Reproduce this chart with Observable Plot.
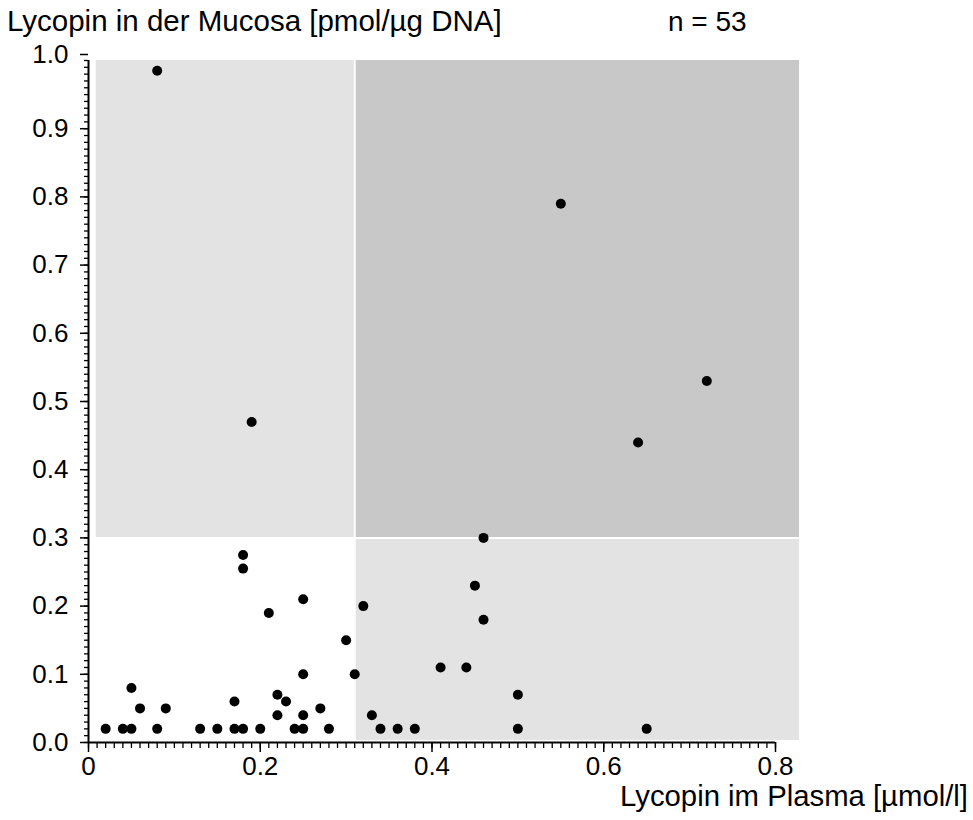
<!DOCTYPE html>
<html>
<head>
<meta charset="utf-8">
<script src="https://cdn.jsdelivr.net/npm/d3@7"></script>
<script src="https://cdn.jsdelivr.net/npm/@observablehq/plot@0.6"></script>
<style>
  html, body { margin: 0; padding: 0; background: #fff; }
  #wrap { position: relative; width: 973px; height: 820px; font-family: "Liberation Sans", Arial, sans-serif; }
  .lbl { position: absolute; line-height: 28px; color: #000; white-space: nowrap; }
</style>
</head>
<body>
<div id="wrap">
  <div class="lbl" id="ytitle" style="left:7px; top:7px; font-size:29.5px;"></div>
  <div class="lbl" id="ntext" style="left:668px; top:8px; font-size:28px;"></div>
  <div class="lbl" id="xtitle" style="right:5px; top:782px; font-size:29.3px;"></div>
</div>
<script>
// ---- data ----
const plasma = [
  0.02, 0.04, 0.05, 0.08, 0.13, 0.15, 0.17, 0.18, 0.20, 0.24, 0.25, 0.28, 0.34, 0.36, 0.38, 0.50, 0.65,
  0.05, 0.06, 0.09, 0.17, 0.18, 0.18, 0.21, 0.22, 0.22, 0.23, 0.25, 0.25, 0.25, 0.27, 0.30, 0.31, 0.32, 0.33,
  0.41, 0.44, 0.45, 0.46, 0.46, 0.50, 0.08, 0.19, 0.55, 0.64, 0.72
];
const mucosa = [
  0.02, 0.02, 0.02, 0.02, 0.02, 0.02, 0.02, 0.02, 0.02, 0.02, 0.02, 0.02, 0.02, 0.02, 0.02, 0.02, 0.02,
  0.08, 0.05, 0.05, 0.06, 0.255, 0.275, 0.19, 0.07, 0.04, 0.06, 0.04, 0.10, 0.21, 0.05, 0.15, 0.10, 0.20, 0.04,
  0.11, 0.11, 0.23, 0.30, 0.18, 0.07, 0.985, 0.47, 0.79, 0.44, 0.53
];
const plasmaCut = 0.31;
const mucosaCut = 0.30;
const regionX1 = [0.009, plasmaCut, plasmaCut];
const regionX2 = [plasmaCut, 0.828, 0.828];
const regionY1 = [mucosaCut, mucosaCut, 0.003];
const regionY2 = [1.0, 1.0, mucosaCut];
const regionShade = ["light", "dark", "light"];
const xMajorTicks = [0, 0.2, 0.4, 0.6, 0.8];
const yMajorTicks = [0, 0.1, 0.2, 0.3, 0.4, 0.5, 0.6, 0.7, 0.8, 0.9];
const yTopTick = [1.0];
const xMinorTicks = d3.range(0, 81).map(i => i / 100);
const yMinorTicks = d3.range(0, 101).map(i => i / 100);
const yTitle = "Lycopin in der Mucosa [pmol/µg DNA]";
const nText = "n = 53";
const xTitle = "Lycopin im Plasma [µmol/l]";

const points = plasma.map((x, i) => ({x, y: mucosa[i]}));
const regions = regionX1.map((x1, i) => ({x1, x2: regionX2[i], y1: regionY1[i], y2: regionY2[i], shade: regionShade[i]}));
const shadeColor = {light: "#e3e3e3", dark: "#c8c8c8"};

document.getElementById("ytitle").textContent = yTitle;
document.getElementById("ntext").textContent = nText;
document.getElementById("xtitle").textContent = xTitle;

const fmtX = d => d === 0 ? "0" : d3.format(".1f")(d);
const fmtY = d3.format(".1f");

const chart = Plot.plot({
  width: 973,
  height: 820,
  marginLeft: 88,
  marginRight: 198,
  marginTop: 60,
  marginBottom: 78,
  style: {fontFamily: "'Liberation Sans', Arial, sans-serif", background: "transparent", overflow: "visible"},
  x: {domain: [0, 0.8], axis: null},
  y: {domain: [0, 1], axis: null},
  marks: [
    Plot.rect(regions, {x1: "x1", x2: "x2", y1: "y1", y2: "y2", fill: d => shadeColor[d.shade]}),
    Plot.ruleX([plasmaCut], {y1: 0, y2: 1, stroke: "#fff", strokeWidth: 2}),
    Plot.ruleY([mucosaCut], {x1: 0.009, x2: 0.828, stroke: "#fff", strokeWidth: 2}),
    Plot.axisX(xMinorTicks, {anchor: "bottom", tickSize: 6, tickFormat: () => "", stroke: "#000", strokeWidth: 1.3}),
    Plot.axisX(xMajorTicks, {anchor: "bottom", tickSize: 10, tickPadding: 4, tickFormat: fmtX, fontSize: 26, stroke: "#000", strokeWidth: 1.5, fill: "#000"}),
    Plot.axisY(yMinorTicks, {anchor: "left", tickSize: 4, tickFormat: () => "", stroke: "#000", strokeWidth: 1.3}),
    Plot.axisY(yMajorTicks, {anchor: "left", tickSize: 8, tickPadding: 12, tickFormat: fmtY, fontSize: 26, stroke: "#000", strokeWidth: 1.5, fill: "#000"}),
    Plot.axisY(yTopTick, {anchor: "left", tickSize: 8, tickPadding: 12, tickFormat: fmtY, fontSize: 26, stroke: "#000", strokeWidth: 1.5, fill: "#000", dy: -6}),
    Plot.ruleY([0], {x1: 0, x2: 0.8, stroke: "#000", strokeWidth: 2}),
    Plot.ruleX([0], {y1: 0, y2: 1, stroke: "#000", strokeWidth: 2}),
    Plot.dot(points, {x: "x", y: "y", r: 5, fill: "#000", stroke: "none"})
  ]
});
chart.style.position = "absolute";
chart.style.left = "0px";
chart.style.top = "0px";
document.getElementById("wrap").prepend(chart);
</script>
</body>
</html>
